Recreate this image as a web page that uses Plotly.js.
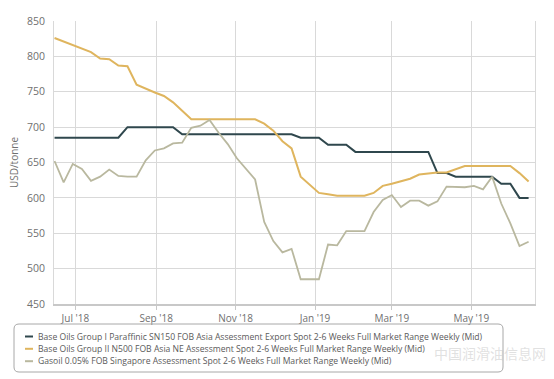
<!DOCTYPE html>
<html>
<head>
<meta charset="utf-8">
<script src="https://cdn.plot.ly/plotly-3.0.1.min.js"></script>
<style>html,body{margin:0;padding:0;background:#fff;}#chart{width:554px;height:379px;}</style>
</head>
<body>
<div id="chart"></div>
<script>
// ---- data ----
const dates = [
 '2018-06-15','2018-06-22','2018-06-29','2018-07-06','2018-07-13','2018-07-20','2018-07-27',
 '2018-08-03','2018-08-10','2018-08-17','2018-08-24','2018-08-31','2018-09-07','2018-09-14',
 '2018-09-21','2018-09-28','2018-10-05','2018-10-12','2018-10-19','2018-10-26','2018-11-02',
 '2018-11-09','2018-11-16','2018-11-23','2018-11-30','2018-12-07','2018-12-14','2018-12-21',
 '2018-12-28','2019-01-04','2019-01-11','2019-01-18','2019-01-25','2019-02-01','2019-02-08',
 '2019-02-15','2019-02-22','2019-03-01','2019-03-08','2019-03-15','2019-03-22','2019-03-29',
 '2019-04-05','2019-04-12','2019-04-19','2019-04-26','2019-05-03','2019-05-10','2019-05-17',
 '2019-05-24','2019-05-31','2019-06-07','2019-06-14'
];
const groupI_SN150 = [
 685,685,685,685,685,685,685,685,700,700,700,700,700,700,
 690,690,690,690,690,690,690,690,690,690,690,690,690,
 685,685,685,675,675,675,665,665,665,665,665,665,665,665,665,
 635,635,630,630,630,630,630,620,620,600,600
];
const groupII_N500 = [
 826,821,817,812,806,797,796,787,786,760,754,749,744,735,723,711,
 711,711,711,711,711,711,711,705,695,680,670,630,618,607,605,603,
 603,603,603,607,617,620,623,627,633,635,636,636,640,645,645,645,
 645,645,645,635,623
];
const gasoil = [
 652,622,648,641,624,630,640,631,630,630,653,667,670,677,678,699,
 702,710,692,676,656,641,626,566,539,523,528,485,485,485,534,533,
 553,553,553,580,597,604,587,596,596,589,595,616,615,615,617,612,
 630,592,564,532,538
];
const seriesNames = [
 'Base Oils Group I Paraffinic SN150 FOB Asia Assessment Export Spot 2-6 Weeks Full Market Range Weekly (Mid)',
 'Base Oils Group II N500 FOB Asia NE Assessment Spot 2-6 Weeks Full Market Range Weekly (Mid)',
 'Gasoil 0.05% FOB Singapore Assessment Spot 2-6 Weeks Full Market Range Weekly (Mid)'
];
const tickDates = ['2018-07-01','2018-09-01','2018-11-01','2019-01-01','2019-03-01','2019-05-01'];
const tickLabels = ["Jul '18","Sep '18","Nov '18","Jan '19","Mar '19","May '19"];
const yTicks = [450,500,550,600,650,700,750,800,850];
const colors = ['#2f474d','#dfb55e','#b9b89f'];

// ---- layout helpers ----
const W = 554, H = 379, L = 54, R = 535, T = 21, B = 304;
const px = x => (x - L) / (R - L);
const py = y => (B - y) / (B - T);

const allSeries = [groupI_SN150, groupII_N500, gasoil];
const traces = allSeries.map((vals, k) => ({
  x: dates, y: vals, type: 'scatter', mode: 'lines', name: seriesNames[k],
  line: {color: colors[k], width: k === 2 ? 1.8 : 2, shape: 'linear'},
  hoverinfo: 'skip'
}));

// manual legend box (rounded rectangle)
function roundRect(x0, y0, x1, y1, r) {
  const rx = r / (R - L), ry = r / (B - T);
  const X0 = px(x0), X1 = px(x1), Y0 = py(y0), Y1 = py(y1);
  return `M ${X0+rx},${Y0} L ${X1-rx},${Y0} Q ${X1},${Y0} ${X1},${Y0-ry} L ${X1},${Y1+ry} Q ${X1},${Y1} ${X1-rx},${Y1} L ${X0+rx},${Y1} Q ${X0},${Y1} ${X0},${Y1+ry} L ${X0},${Y0-ry} Q ${X0},${Y0} ${X0+rx},${Y0} Z`;
}
const shapes = [{
  type: 'path', xref: 'paper', yref: 'paper', path: roundRect(14, 324, 503, 372, 5),
  line: {color: '#a8a8a8', width: 1}, fillcolor: 'rgba(255,255,255,0)'
}];
const annotations = [];
const legendY = [336.5, 348.8, 361.2];
seriesNames.forEach((nm, k) => {
  shapes.push({type: 'line', xref: 'paper', yref: 'paper',
    x0: px(25), x1: px(33), y0: py(legendY[k]), y1: py(legendY[k]),
    line: {color: colors[k], width: 2}});
  annotations.push({xref: 'paper', yref: 'paper', x: px(36), y: py(legendY[k]),
    xanchor: 'left', yanchor: 'middle', text: nm, showarrow: false,
    font: {family: 'Open Sans, sans-serif', size: 8.6, color: '#5a5a5a'}});
});
// watermark
annotations.push({xref: 'paper', yref: 'paper', x: px(548), y: py(353), xanchor: 'right', yanchor: 'middle',
  text: '中国润滑油信息网', showarrow: false,
  font: {family: 'Noto Sans CJK SC', size: 14, color: 'rgba(200,200,200,0.55)'}});

const layout = {
  width: W, height: H,
  margin: {l: L, r: W - R, t: T, b: H - B, pad: 0},
  paper_bgcolor: '#fff', plot_bgcolor: '#fff',
  showlegend: false,
  font: {family: 'Open Sans, sans-serif', color: '#707070'},
  xaxis: {
    type: 'date', range: ['2018-06-14 14:00', '2019-06-18 22:00'],
    tickmode: 'array', tickvals: tickDates, ticktext: tickLabels,
    showgrid: true, gridcolor: '#d9d9d9', gridwidth: 1,
    showline: true, linecolor: '#c8c8c8', linewidth: 2,
    ticks: 'outside', ticklen: 4, tickcolor: '#c8c8c8',
    tickfont: {size: 10, color: '#707070'}, zeroline: false, fixedrange: true
  },
  yaxis: {
    range: [450, 850], tickmode: 'array', tickvals: yTicks,
    showgrid: true, gridcolor: '#d9d9d9', gridwidth: 1,
    showline: true, linecolor: '#d9d9d9', linewidth: 1, mirror: true,
    ticks: '', ticklabelstandoff: 6,
    tickfont: {size: 10.5, color: '#707070'}, zeroline: false,
    title: {text: 'USD/tonne', font: {size: 10, color: '#707070'}, standoff: 6},
    fixedrange: true
  },
  shapes: shapes,
  annotations: annotations
};
Plotly.newPlot('chart', traces, layout, {displayModeBar: false, staticPlot: true});
</script>
</body>
</html>
